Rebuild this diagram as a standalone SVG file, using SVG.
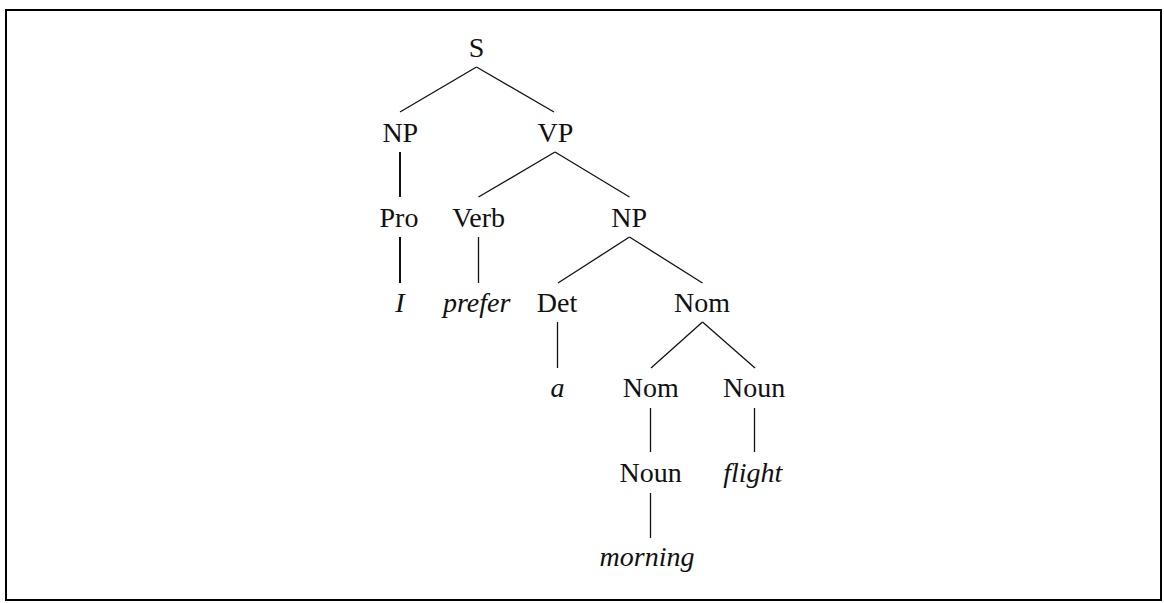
<svg xmlns="http://www.w3.org/2000/svg" width="1164" height="603" viewBox="0 0 1164 603">
<style>
text{font-family:"Liberation Serif","Times New Roman",serif;font-size:28px;fill:#111;text-anchor:middle}
.w{font-style:italic}
#edges line{stroke:#111;stroke-width:1.3;fill:none}
#edges line.b{stroke-width:2}
</style>
<rect x="0" y="0" width="1164" height="603" fill="#fff"/>
<rect id="frame" x="6" y="10" width="1155" height="590" fill="none" stroke="#000" stroke-width="2"/>
<g id="edges">
<line x1="476.5" y1="67" x2="400" y2="112"/>
<line x1="476.5" y1="67" x2="554" y2="112"/>
<line class="b" x1="400" y1="152" x2="400" y2="197"/>
<line x1="555" y1="152" x2="478.5" y2="197"/>
<line x1="555" y1="152" x2="629.5" y2="197"/>
<line class="b" x1="400" y1="237" x2="400" y2="283"/>
<line x1="478.5" y1="237" x2="478.5" y2="283"/>
<line x1="629.5" y1="237" x2="558" y2="283"/>
<line x1="629.5" y1="237" x2="702.5" y2="283"/>
<line x1="557.5" y1="322" x2="557.5" y2="368"/>
<line x1="702.5" y1="322" x2="651" y2="368"/>
<line x1="702.5" y1="322" x2="755" y2="368"/>
<line x1="650.5" y1="408" x2="650.5" y2="452"/>
<line x1="754.5" y1="408" x2="754.5" y2="452"/>
<line x1="650.5" y1="493" x2="650.5" y2="538"/>
</g>
<g id="n-S"><text x="476.5" y="56.5">S</text></g>
<g id="n-NP1"><text x="400.3" y="141.5">NP</text></g>
<g id="n-VP"><text x="555.5" y="141.5">VP</text></g>
<g id="n-Pro"><text x="399" y="226.5">Pro</text></g>
<g id="n-Verb"><text x="478.7" y="226.5">Verb</text></g>
<g id="n-NP2"><text x="629.2" y="226.5">NP</text></g>
<g id="n-I"><text class="w" x="400" y="311.5">I</text></g>
<g id="n-prefer"><text class="w" x="476.7" y="311.5">prefer</text></g>
<g id="n-Det"><text x="557" y="311.5">Det</text></g>
<g id="n-Nom1"><text x="702" y="311.5">Nom</text></g>
<g id="n-a"><text class="w" x="557.5" y="396.5">a</text></g>
<g id="n-Nom2"><text x="650.8" y="396.5">Nom</text></g>
<g id="n-Noun1"><text x="754.2" y="396.5">Noun</text></g>
<g id="n-Noun2"><text x="650.7" y="481.5">Noun</text></g>
<g id="n-flight"><text class="w" x="752.7" y="481.5">flight</text></g>
<g id="n-morning"><text class="w" x="647" y="566">morning</text></g>
</svg>
